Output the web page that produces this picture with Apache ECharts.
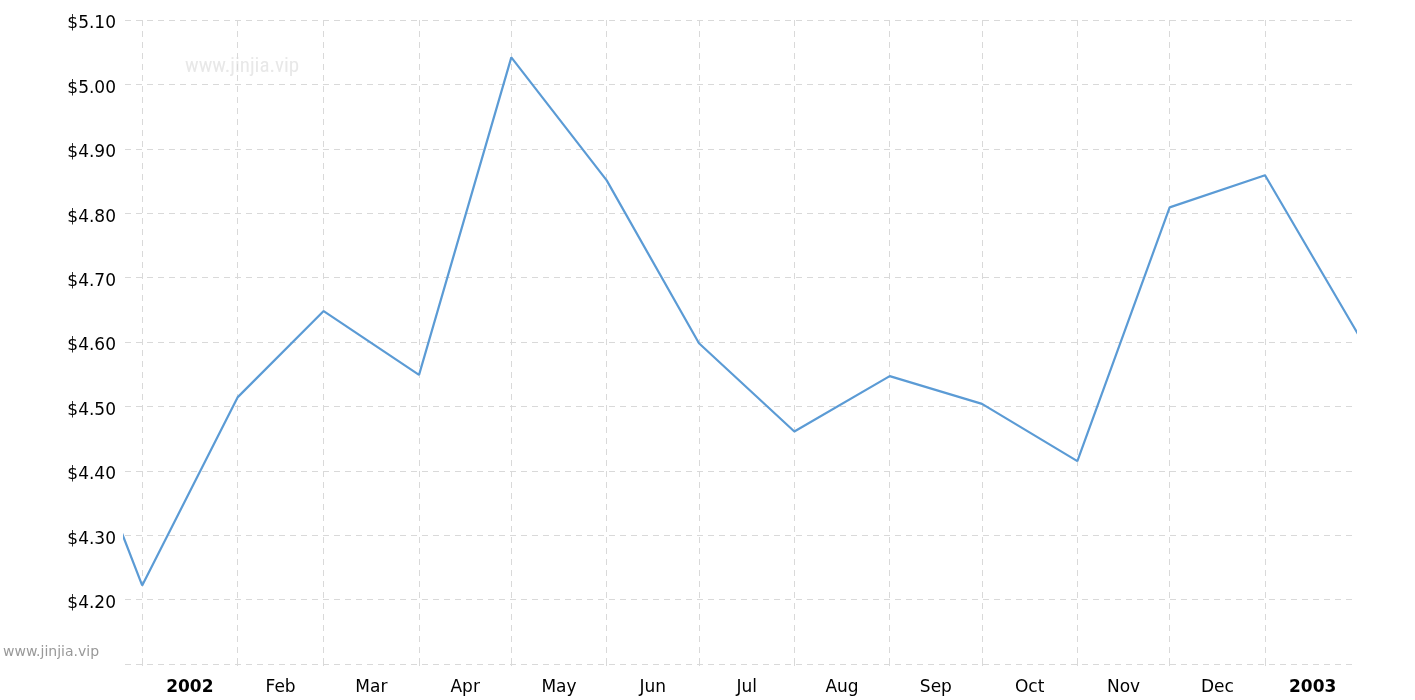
<!DOCTYPE html>
<html>
<head>
<meta charset="utf-8">
<script src="https://cdn.jsdelivr.net/npm/echarts@6/dist/echarts.min.js"></script>
<style>
html,body{margin:0;padding:0;background:#fff;}
#chart{width:1415px;height:700px;}
</style>
</head>
<body>
<div id="chart"></div>
<script>
// ---- data ----
const dates = ['2001-12-01','2002-01-01','2002-02-01','2002-03-01','2002-04-01','2002-05-01','2002-06-01',
  '2002-07-01','2002-08-01','2002-09-01','2002-10-01','2002-11-01','2002-12-01','2003-01-01','2003-02-01'];
const prices = [4.605, 4.222, 4.514, 4.648, 4.549, 5.042, 4.851, 4.598, 4.461, 4.547, 4.504, 4.415, 4.809, 4.859, 4.606];
const monthStarts = ['2002-01-01','2002-02-01','2002-03-01','2002-04-01','2002-05-01','2002-06-01','2002-07-01',
  '2002-08-01','2002-09-01','2002-10-01','2002-11-01','2002-12-01','2003-01-01'];
const tickLabels = ['2002','Feb','Mar','Apr','May','Jun','Jul','Aug','Sep','Oct','Nov','Dec','2003'];
const boldLabels = ['2002','2003'];
const yMin = 4.10, yMax = 5.10, yStep = 0.10;
const xStart = '2001-12-26T10:00:00', xEnd = '2003-01-30T06:00:00';

// ---- helpers ----
// x positions are expressed in days since 2002-01-01 (UTC) on a linear value axis
const EPOCH = Date.UTC(2002, 0, 1);
const DAY = 86400000;
function dayNum(s){
  const p = s.split(/[-T:]/).map(Number);
  return (Date.UTC(p[0], p[1]-1, p[2], p[3]||0, p[4]||0, p[5]||0) - EPOCH) / DAY;
}
const tickVals = monthStarts.map(dayNum);
const labelVals = monthStarts.map(function(s){
  const p = s.split('-').map(Number);
  const start = (Date.UTC(p[0], p[1]-1, 1) - EPOCH) / DAY;
  const next = (Date.UTC(p[0], p[1], 1) - EPOCH) / DAY;
  return (start + next) / 2;
});
const seriesData = dates.map(function(d, i){ return [dayNum(d), prices[i]]; });

const chart = echarts.init(document.getElementById('chart'), null, {renderer:'canvas'});
const FONT = 'DejaVu Sans, Verdana, sans-serif';
const GRID = '#d9d9d9';
chart.setOption({
  animation: false,
  backgroundColor: '#ffffff',
  grid: {left:125, right:60, top:20, bottom:36, containLabel:false},
  xAxis: {
    type: 'value',
    min: dayNum(xStart),
    max: dayNum(xEnd),
    axisLine: {show:false},
    axisTick: {show:true, customValues: tickVals, length:2, lineStyle:{color:GRID}},
    splitLine: {show:true, lineStyle:{color:GRID, type:[6,5], width:1}},
    axisLabel: {
      show: true,
      customValues: labelVals,
      margin: 15,
      color: '#000',
      fontFamily: FONT,
      fontSize: 17,
      hideOverlap: false,
      showMinLabel: true,
      showMaxLabel: true,
      formatter: function(v){
        let best = 0, bd = Infinity;
        labelVals.forEach(function(l, i){ const d = Math.abs(l - v); if (d < bd){ bd = d; best = i; } });
        const t = tickLabels[best];
        return boldLabels.indexOf(t) >= 0 ? '{b|' + t + '}' : t;
      },
      rich: {b: {fontWeight:'bold', fontFamily: FONT, fontSize:17, color:'#000'}}
    }
  },
  yAxis: {
    type: 'value',
    min: yMin,
    max: yMax,
    interval: yStep,
    axisLine: {show:false},
    axisTick: {show:false},
    splitLine: {show:true, lineStyle:{color:GRID, type:[6,5], width:1}},
    axisLabel: {
      color:'#000',
      fontFamily: FONT,
      fontSize: 17,
      margin: 9,
      verticalAlign: 'top',
      lineHeight: 8,
      showMinLabel: false,
      formatter: function(v){ return '$' + v.toFixed(2); }
    }
  },
  series: [{
    type: 'line',
    data: seriesData,
    showSymbol: false,
    symbol: 'none',
    clip: true,
    lineStyle: {color:'#5b9bd5', width:2.2},
    itemStyle: {color:'#5b9bd5'}
  }],
  graphic: [
    {type:'text', left:185, top:56, silent:true,
     style:{text:'www.jinjia.vip', fill:'#e8e8e8', font:'21px "Liberation Sans Narrow", "Roboto Condensed", Roboto, sans-serif'}},
    {type:'text', left:3, top:645, silent:true,
     style:{text:'www.jinjia.vip', fill:'#999999', font:'14px "DejaVu Sans", Verdana, sans-serif'}}
  ]
});
</script>
</body>
</html>
